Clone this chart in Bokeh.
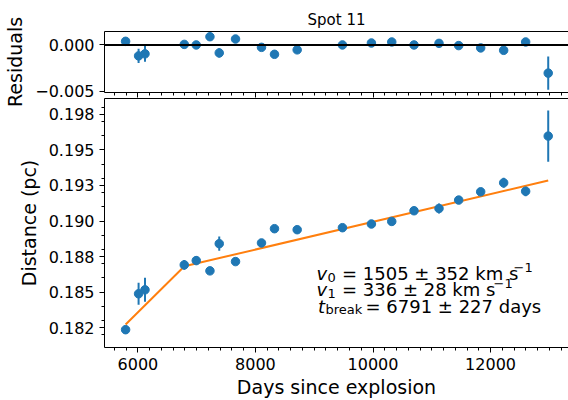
import numpy as np
from bokeh.plotting import figure
from bokeh.models import ColumnDataSource, Range1d, FixedTicker, LinearAxis, Label, Span
from bokeh.layouts import column
from bokeh.embed import file_html
from bokeh.resources import INLINE

# ---------------- data ----------------
days = [5791, 6012, 6121, 6789, 6993, 7226, 7384, 7661, 8103, 8324, 8710,
        9480, 9973, 10319, 10698, 11123, 11458, 11832, 12223, 12597, 12981]
distance = [0.18237, 0.18489, 0.18517, 0.18692, 0.18722, 0.18650, 0.18841,
            0.18715, 0.18846, 0.18946, 0.18939, 0.18953, 0.18979, 0.18997,
            0.19072, 0.19088, 0.19147, 0.19205, 0.19268, 0.19209, 0.19596]
distance_err = [0.0003, 0.00077, 0.00084, 0.00035, 0.0003, 0.0002, 0.0005,
                0.0002, 0.0002, 0.0002, 0.0002, 0.0002, 0.0002, 0.0002,
                0.0002, 0.00035, 0.0002, 0.0002, 0.00035, 0.00035, 0.0018]
residuals = [0.00039, -0.00118, -0.00096, 0.00006, 0.0, 0.00089, -0.00086,
             0.00064, -0.00026, -0.00101, -0.00053, 0.0, 0.00021, 0.00032,
             0.0, 0.00017, -0.00007, -0.00032, -0.00058, 0.00032, -0.00304]
fit_days = [5791, 6791, 12981]
fit_distance = [0.18274, 0.18682, 0.19284]

day_ticks = [6000, 8000, 10000, 12000]
day_tick_labels = ["6000", "8000", "10000", "12000"]
dist_ticks = [0.1825, 0.185, 0.1875, 0.19, 0.1925, 0.195, 0.1975]
dist_tick_labels = ["0.182", "0.185", "0.188", "0.190", "0.193", "0.195", "0.198"]
res_ticks = [-0.005, 0.0]
res_tick_labels = ["\u22120.005", "0.000"]

title_text = "Spot 11"
xlabel = "Days since explosion"
ylabel_top = "Residuals"
ylabel_bottom = "Distance (pc)"

BLUE = "#1f77b4"
ORANGE = "#ff7f0e"
FONT = "DejaVu Sans"

d = np.array(distance)
e = np.array(distance_err)
r = np.array(residuals)
src = ColumnDataSource(dict(x=days, y=d, lo=d - e, hi=d + e,
                            r=r, rlo=r - e, rhi=r + e))

x_range = Range1d(5432, 13326)
day_minor = list(range(5400, 13400, 200))
dist_minor = [round(0.181 + 0.001 * i, 3) for i in range(19)]

OVERLAP = 14  # top canvas extends under the transparent border of the lower one


def style_axis(ax, ticks, labels, minor=None, show_labels=True):
    ax.ticker = FixedTicker(ticks=ticks, minor_ticks=minor or [])
    ax.axis_line_color = "black"
    ax.axis_line_width = 1
    ax.major_tick_line_color = "black"
    ax.minor_tick_line_color = "black"
    ax.major_tick_out = 5
    ax.major_tick_in = 0
    ax.minor_tick_out = 3
    ax.minor_tick_in = 0
    ax.major_label_text_font = FONT
    ax.major_label_text_color = "black"
    ax.major_label_text_font_size = "16px"
    if show_labels:
        ax.major_label_overrides = {t: l for t, l in zip(ticks, labels)}
        ax.major_label_standoff = 5
    else:
        ax.major_label_overrides = {t: "" for t in ticks}
        ax.major_label_standoff = 0
    ax.axis_label_text_font = FONT
    ax.axis_label_text_font_size = "19px"
    ax.axis_label_text_font_style = "normal"
    ax.axis_label_text_color = "black"


def border_axis(p):
    ax = LinearAxis(ticker=FixedTicker(ticks=[]), axis_line_color="black",
                    axis_line_width=1, major_tick_out=0, major_tick_in=0,
                    minor_tick_out=0, minor_tick_in=0, major_label_standoff=0)
    p.add_layout(ax, "above")


# ---------------- top panel: residuals ----------------
top = figure(width=568, height=98 + OVERLAP, x_range=x_range,
             y_range=Range1d(-0.00513, 0.00145),
             output_backend="svg", toolbar_location=None,
             min_border_left=104, min_border_right=0,
             min_border_top=31, min_border_bottom=6 + OVERLAP)
top.outline_line_color = None
top.grid.visible = False
top.title.text = title_text
top.title.align = "center"
top.title.text_font = FONT
top.title.text_font_size = "15px"
top.title.text_font_style = "normal"
top.title.text_color = "black"
top.title.standoff = 6
top_x = top.below[0]
top_y = top.left[0]
style_axis(top_x, day_ticks, day_tick_labels, day_minor, show_labels=False)
style_axis(top_y, res_ticks, res_tick_labels)
top_y.axis_label = ylabel_top
top_y.axis_label_standoff = 6
border_axis(top)

top.add_layout(Span(location=0, dimension="width", line_color="black", line_width=2))
top.segment(x0="x", y0="rlo", x1="x", y1="rhi", source=src, line_color=BLUE, line_width=2)
top.scatter(x="x", y="r", source=src, size=8.5, fill_color=BLUE, line_color=BLUE)

# ---------------- bottom panel: distance ----------------
bot = figure(width=568, height=302, x_range=x_range,
             y_range=Range1d(0.18112, 0.1986),
             output_backend="svg", toolbar_location=None,
             min_border_left=104, min_border_right=0,
             min_border_top=0, min_border_bottom=52,
             margin=(-OVERLAP, 0, 0, 0))
bot.border_fill_alpha = 0
bot.outline_line_color = None
bot.grid.visible = False
bot_x = bot.below[0]
bot_y = bot.left[0]
style_axis(bot_x, day_ticks, day_tick_labels, day_minor)
style_axis(bot_y, dist_ticks, dist_tick_labels, dist_minor)
bot_x.axis_label = xlabel
bot_x.axis_label_standoff = 3
bot_y.axis_label = ylabel_bottom
bot_y.axis_label_standoff = 6
border_axis(bot)

bot.segment(x0="x", y0="lo", x1="x", y1="hi", source=src, line_color=BLUE, line_width=2)
bot.line(fit_days, fit_distance, line_color=ORANGE, line_width=2)
bot.scatter(x="x", y="y", source=src, size=8.5, fill_color=BLUE, line_color=BLUE)

# annotation text (pieces with italic symbols, sub- and superscripts)
F_MAIN = "18px"
F_SUB = "13px"


def lab(text, x, y, size=F_MAIN, style="normal"):
    bot.add_layout(Label(x=x, y=y, x_units="screen", y_units="screen", text=text,
                         text_font=FONT, text_font_size=size, text_font_style=style,
                         text_color="black", text_baseline="alphabetic",
                         text_align="left"))


lab("v", 212, 74, style="italic")
lab("0", 223, 70.5, size=F_SUB)
lab("= 1505 \u00b1 352 km s", 237.5, 74)
lab("\u22121", 409, 80.5, size=F_SUB)

lab("v", 212, 58, style="italic")
lab("1", 223, 54.5, size=F_SUB)
lab("= 336 \u00b1 28 km s", 237.5, 58)
lab("\u22121", 389, 64.5, size=F_SUB)

lab("t", 213.5, 41.5, style="italic")
lab("break", 221, 38, size=F_SUB)
lab("= 6791 \u00b1 227 days", 261, 41.5)

layout = column(top, bot, spacing=0)
open("out.html", "w").write(file_html(layout, INLINE))
